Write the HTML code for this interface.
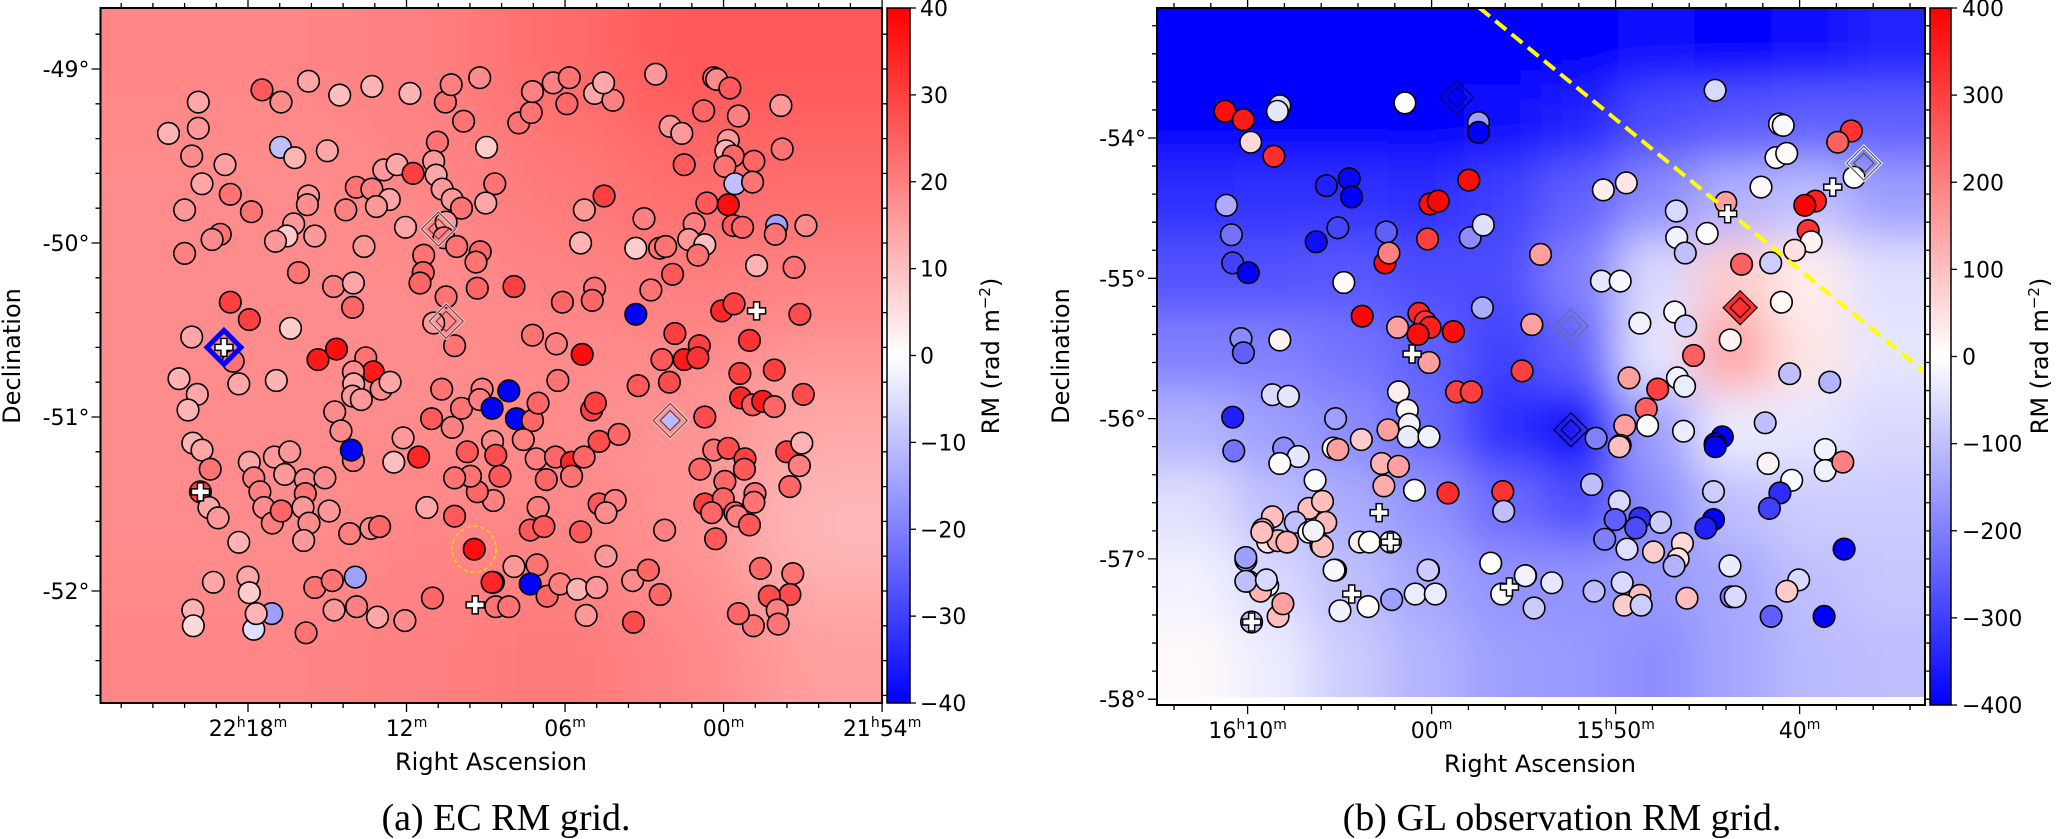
<!DOCTYPE html>
<html><head><meta charset="utf-8"><style>
html,body{margin:0;padding:0;background:#fff;}
svg{display:block;}
text{font-family:"DejaVu Sans","Liberation Sans",sans-serif;fill:#000;}
.cap{font-family:"Liberation Serif",serif;font-size:38px;}
</style></head><body>
<svg id="fig" width="2062" height="839" viewBox="0 0 2062 839" xmlns="http://www.w3.org/2000/svg">
<defs>
<clipPath id="clipL"><rect x="100.5" y="8" width="781.5" height="695"/></clipPath>
<clipPath id="clipR"><rect x="1157" y="8" width="768" height="697"/></clipPath>
<clipPath id="clipRmap"><rect x="1157" y="8" width="768" height="689"/></clipPath>
<filter id="blurL" filterUnits="userSpaceOnUse" x="0" y="-100" width="1000" height="900"><feGaussianBlur stdDeviation="40"/></filter>
<filter id="blurR" filterUnits="userSpaceOnUse" x="1050" y="-100" width="1000" height="900"><feGaussianBlur stdDeviation="22"/></filter>
<linearGradient id="cbar" x1="0" y1="1" x2="0" y2="0">
<stop offset="0" stop-color="#0000ff"/><stop offset="0.5" stop-color="#ffffff"/><stop offset="1" stop-color="#ff0000"/>
</linearGradient>
</defs>
<g id="root"></g>
<text class="cap" x="506" y="830" text-anchor="middle">(a) EC RM grid.</text>
<text class="cap" x="1562" y="830" text-anchor="middle">(b) GL observation RM grid.</text>
</svg>
<script>
// ===== Panel (a) data: RA in minutes after 22h, Dec in degrees, RM in rad m^-2 =====
const lRa=[21.01,19.88,19.88,20.13,18.87,19.74,18.67,20.40,17.87,20.40,
19.05,19.36,17.47,16.75,15.71,14.53,13.31,11.87,10.53,10.31,
9.23,9.84,10.83,16.77,16.23,15.00,12.86,12.36,11.75,10.97,
10.88,10.65,10.27,9.92,8.97,8.66,9.00,13.90,13.31,12.65,
13.14,14.30,15.71,15.75,16.27,16.53,16.96,15.47,13.61,12.04,
10.50,11.35,11.37,11.49,10.58,10.10,9.21,9.37,9.32,16.09,
14.76,14.01,14.04,10.50,10.97,10.18,7.93,7.75,7.28,7.23,
6.45,5.93,5.84,4.88,4.19,4.54,2.57,0.75,0.37,2.02,
1.58,1.49,0.63,1.11,3.01,4.52,5.27,5.41,3.32,2.42,
2.19,1.32,0.71,0.97,1.93,2.75,4.88,4.97,6.10,3.32,
1.84,1.49,0.92,0.97,2.33,2.05,3.23,5.35,6.33,7.23,
6.27,18.67,17.95,20.13,18.56,20.61,18.35,19.92,20.27,16.93,
16.39,15.35,14.65,13.54,13.26,14.01,14.00,14.04,13.71,12.96,
12.62,14.72,14.48,14.01,14.09,12.48,12.13,11.54,11.05,10.27,
10.67,9.92,9.14,9.23,8.76,8.13,7.84,7.23,7.02,7.58,
8.74,9.70,8.62,8.46,7.09,6.36,5.75,5.28,5.75,6.71,
7.02,8.71,9.32,9.58,10.18,11.23,10.18,9.44,4.99,4.85,
4.71,3.96,0.71,0.89,0.37,0.71,4.71,4.10,4.45,2.23,
5.41,7.32,6.80,7.93,7.06,8.71,7.32,20.09,19.74,19.43,
19.80,19.48,19.13,18.35,17.95,17.78,17.00,16.42,16.61,17.55,
17.40,17.08,16.74,15.83,15.83,15.92,15.09,14.93,15.69,15.89,
14.15,13.35,13.02,
19.31,18.00,17.95,20.09,20.07,17.78,17.10,17.69,15.47,14.81,
13.94,14.74,13.89,13.10,12.06,15.80,11.02,8.76,8.62,8.13,
6.68,6.19,5.53,4.80,5.20,3.44,2.85,2.40,3.41,4.45,
0.26,-0.24,-0.56,-2.17,-0.18,-0.09,-0.37,-1.15,-2.22,-0.05,
-0.43,-1.10,-0.18,-0.37,-0.72,-2.01,-1.96,-3.12,-1.25,-2.67,
0.07,-0.40,-2.89,-0.98,-0.62,-1.92,-0.65,-1.10,-1.48,-1.92,
-3.02,-0.18,-0.81,-0.79,-0.05,0.01,0.45,-0.43,-0.52,-1.19,
-1.15,-0.98,0.30,-2.39,-2.96,-2.87,-2.51,-1.40,-2.62,-2.51,
-1.73,-2.03,-2.07,-1.13,-0.56];
const lDec=[-49.37,-49.19,-49.34,-49.50,-49.55,-49.66,-49.72,-49.81,-49.82,-50.06,
-49.95,-49.98,-49.12,-49.19,-49.07,-49.15,-49.10,-49.14,-49.19,-49.09,
-49.05,-49.30,-49.42,-49.45,-49.51,-49.47,-49.58,-49.55,-49.60,-49.53,
-49.61,-49.69,-49.75,-49.80,-49.45,-49.66,-49.77,-49.68,-49.69,-49.75,
-49.79,-49.81,-49.73,-49.78,-49.89,-49.96,-49.99,-49.96,-50.02,-49.91,
-49.88,-50.07,-50.17,-50.23,-49.97,-50.02,-50.05,-50.11,-50.26,-50.17,
-50.25,-50.23,-50.37,-50.31,-50.46,-50.59,-50.25,-49.31,-49.25,-49.13,
-49.08,-49.20,-49.05,-49.14,-49.18,-49.08,-49.03,-49.24,-49.05,-49.33,
-49.37,-49.55,-49.77,-49.89,-49.86,-49.73,-49.81,-50.00,-50.03,-50.03,
-50.02,-49.98,-50.01,-50.07,-50.18,-50.27,-50.26,-50.33,-50.34,-50.41,
-50.52,-50.67,-50.59,-50.66,-50.67,-50.80,-50.82,-50.64,-50.58,-50.53,
-50.79,-50.34,-50.44,-50.54,-50.68,-50.78,-50.81,-50.87,-50.96,-50.79,
-50.49,-50.67,-50.61,-50.66,-50.74,-50.74,-50.81,-50.88,-50.90,-50.84,
-50.80,-50.97,-51.08,-51.25,-51.19,-51.26,-51.12,-51.23,-51.01,-51.06,
-50.84,-50.95,-50.84,-50.90,-50.95,-50.85,-51.01,-51.02,-50.92,-51.13,
-51.14,-51.20,-51.22,-51.34,-51.24,-51.23,-51.26,-51.23,-51.34,-51.36,
-51.52,-51.48,-51.43,-51.34,-51.35,-51.52,-51.57,-51.76,-50.96,-50.92,
-51.14,-51.10,-51.00,-51.30,-51.19,-51.50,-51.50,-51.48,-51.55,-51.65,
-51.66,-51.65,-51.63,-51.86,-51.85,-51.95,-51.96,-51.15,-51.19,-51.30,
-51.43,-51.52,-51.58,-51.72,-51.26,-51.35,-51.23,-51.20,-51.33,-51.43,
-51.52,-51.61,-51.54,-51.36,-51.44,-51.52,-51.35,-51.54,-51.61,-51.71,
-51.67,-51.64,-51.63,
-51.95,-51.92,-52.01,-52.11,-52.20,-52.22,-52.13,-52.13,-51.98,-51.94,
-51.92,-52.11,-52.09,-52.15,-52.17,-52.24,-52.04,-51.95,-52.09,-52.09,
-52.03,-51.96,-51.99,-51.98,-52.14,-51.94,-51.88,-52.02,-52.18,-51.80,
-49.06,-49.11,-49.27,-49.21,-49.41,-49.47,-49.50,-49.53,-49.46,-49.56,
-49.66,-49.65,-49.78,-49.90,-49.91,-49.90,-49.95,-49.90,-50.13,-50.14,
-50.39,-50.35,-50.41,-50.56,-50.75,-50.73,-50.89,-50.93,-50.91,-50.94,
-50.87,-51.18,-51.24,-51.30,-51.37,-51.47,-51.55,-51.55,-51.57,-51.44,
-51.49,-51.62,-51.70,-51.20,-51.15,-51.28,-51.40,-51.87,-51.90,-52.02,
-52.03,-52.11,-52.19,-52.20,-52.13];
const lRm=[12,14,16,18,15,14,22,16,22,20,
22,18,26,18,14,10,12,12,22,20,
18,22,22,-10,12,14,16,14,30,16,
14,16,16,22,8,22,14,22,20,14,
16,20,16,18,16,8,16,16,16,14,
16,22,24,24,20,22,24,22,24,22,
20,14,24,22,16,22,30,22,22,20,
20,24,22,14,20,14,16,24,22,16,
16,26,26,20,20,30,16,12,8,22,
22,16,10,22,26,22,22,24,24,-40,
30,36,30,32,26,28,26,38,20,22,
22,30,30,14,22,12,14,14,12,12,
8,36,38,22,36,18,14,16,16,18,
14,18,18,20,-40,10,16,34,26,20,
22,22,20,20,-40,-40,-40,24,24,20,
18,26,28,26,20,24,34,24,22,24,
20,20,24,22,22,14,26,38,30,30,
28,24,28,24,22,30,26,20,18,20,
26,26,26,16,22,30,-40,12,14,22,
30,14,16,12,14,20,16,16,16,20,
18,20,24,18,22,16,18,16,18,16,
20,18,24,
14,14,8,12,6,-5,-15,12,22,22,
-15,16,20,14,18,22,24,34,22,22,
24,20,12,16,16,18,24,24,28,16,
18,26,20,16,16,12,24,24,22,22,
-10,22,38,26,24,-15,22,18,12,22,
34,30,28,32,30,30,34,26,36,24,
28,28,30,26,24,24,24,24,20,22,
22,26,26,30,12,20,24,24,22,28,
28,20,22,22,24];
// background RM grid (rows top->bottom, cols left->right)
const lGrid=[[19,19,20,23,26,26],[18,18,19,21,23,23],[18,18,18,19,20,19],[18,18,18,18,17,14],[18,18,19,19,17,11],[19,19,20,21,19,15]];
const lPlusRa=[19.80,9.40,-1.25,18.91];
const lPlusDec=[-51.43,-52.08,-50.39,-50.60];
const lHollowRa=[10.79,10.50];
const lHollowDec=[-49.92,-50.45];
const lTickRa=[18,12,6,0,-6];
const lTickRaLabel=[["22","h","18","m"],["12","m"],["06","m"],["00","m"],["21","h","54","m"]];
const lTickDec=[-49,-50,-51,-52];
const lCbarTicks=[40,30,20,10,0,-10,-20,-30,-40];

// ===== Panel (b) data: RA in minutes after 15h =====
const rRa=[71.23,70.23,69.83,68.57,68.25,68.38,61.45,57.45,57.45,65.72,
64.48,64.35,57.98,60.08,59.64,71.15,70.88,70.81,69.96,66.27,
65.09,62.46,60.22,57.90,57.19,62.53,62.32,64.77,63.77,61.85,
60.69,60.35,60.08,60.74,58.82,57.24,54.55,70.36,70.23,68.25,
60.14,55.08,58.64,57.84,61.80,68.65,67.78,61.32,61.22,61.27,
60.14,62.37,70.81,70.75,65.22,65.35,65.09,63.82,68.04,67.25,
68.25,62.72,61.80,62.59,60.93,66.33,59.11,56.13,56.08,68.65,
66.67,65.93,65.75,67.41,66.67,69.17,68.91,67.85,66.01,63.90,
63.38,62.24,60.17,56.79,54.89,70.09,69.96,68.91,65.22,44.59,
41.09,40.89,37.19,37.93,41.28,40.70,37.04,42.10,49.42,50.67,
44.01,39.14,39.72,46.70,45.02,46.68,46.21,39.53,39.37,40.27,
54.08,43.15,41.57,50.77,49.75,40.99,46.79,46.19,48.68,43.77,
45.76,49.27,47.71,46.64,46.25,40.54,38.36,48.33,48.26,49.50,
46.31,41.87,44.20,44.59,51.06,49.75,49.80,51.30,49.80,50.02,
48.68,48.90,47.56,50.59,49.38,47.94,46.37,46.60,46.82,44.68,
44.68,45.10,44.58,41.71,40.43,41.07,41.64,38.61,38.61,37.65,
37.58,43.78,40.05,40.69,51.17,49.64,48.68,49.54,48.61,46.12,
43.72,43.50,41.55,38.67,69.78,68.34,68.08,64.98,63.45,62.17,
60.89,59.80,56.19,54.43,53.47,54.91,69.30,70.10,68.98,70.10,
68.34,69.23,67.86,65.94,66.42,65.30,60.19];
const rDec=[-53.81,-53.87,-54.03,-54.13,-53.77,-53.81,-53.75,-53.89,-53.96,-54.34,
-54.29,-54.42,-54.30,-54.47,-54.45,-54.48,-54.69,-54.89,-54.96,-54.74,
-54.64,-54.67,-54.72,-54.71,-54.62,-54.89,-54.82,-55.03,-55.27,-55.35,
-55.25,-55.31,-55.35,-55.40,-55.38,-55.21,-55.33,-55.43,-55.53,-55.44,
-55.60,-55.66,-55.81,-55.81,-55.81,-55.83,-55.84,-55.94,-56.04,-56.13,
-56.13,-56.08,-55.99,-56.23,-56.00,-56.21,-56.22,-56.15,-56.21,-56.27,
-56.32,-56.32,-56.34,-56.48,-56.51,-56.44,-56.53,-56.52,-56.66,-56.70,
-56.64,-56.59,-56.74,-56.74,-56.81,-56.79,-56.88,-56.88,-56.90,-56.88,
-56.88,-56.88,-57.08,-57.03,-57.12,-57.01,-57.16,-57.19,-57.08,-53.66,
-53.90,-53.91,-53.95,-54.03,-54.14,-54.11,-54.28,-54.35,-54.32,-54.37,
-54.46,-54.45,-54.48,-54.52,-54.68,-54.71,-54.82,-54.66,-54.74,-54.80,
-54.83,-54.90,-54.89,-55.02,-55.02,-55.17,-55.24,-55.34,-55.32,-55.44,
-55.55,-55.71,-55.79,-55.71,-55.77,-55.68,-55.74,-55.93,-56.05,-56.05,
-56.09,-56.03,-56.13,-56.18,-56.14,-56.19,-56.20,-56.47,-56.59,-56.72,
-56.71,-56.78,-56.74,-56.86,-56.93,-56.95,-56.89,-57.00,-57.05,-56.52,
-56.72,-56.78,-56.20,-56.32,-56.44,-56.53,-56.64,-56.22,-56.37,-56.31,
-56.93,-57.05,-57.15,-57.23,-57.23,-57.17,-57.26,-57.33,-57.33,-57.28,
-57.27,-57.27,-57.41,-57.41,-57.45,-57.41,-57.32,-57.37,-57.34,-57.29,
-57.25,-57.25,-57.25,-57.35,-57.17,-57.12,-57.23,-57.16,-57.15,-56.99,
-56.87,-56.81,-56.88,-56.91,-56.80,-57.08,-57.08];
const rRm=[380,360,60,330,-60,-40,-2,-150,-400,-350,
-390,-400,380,380,390,-130,-220,-300,-400,-380,
-290,-250,300,-180,-50,380,200,-5,390,150,
340,320,350,380,380,-130,150,-180,-250,20,
150,300,300,300,30,-60,-40,10,-20,-30,
-20,150,-350,-220,-150,0,150,80,-180,-40,
0,120,150,130,5,-5,330,320,-100,100,
100,100,110,-100,0,130,50,100,120,30,
0,-20,-160,0,-50,-130,-50,-10,-30,-60,
0,-10,320,250,5,10,0,10,40,30,
150,350,400,-60,0,-20,-100,320,20,50,
150,250,-80,-40,-10,10,-10,-70,-20,20,
250,150,300,-20,-30,-100,-120,250,-5,150,
-30,-100,-400,-400,-200,100,100,-100,-60,-250,
-330,-280,-80,-200,-50,80,60,50,-120,-80,
-400,-350,-400,20,-10,-330,-300,-20,-20,200,
-400,-30,-60,80,-100,-60,100,80,-80,100,
-200,-60,-250,-400,-100,100,150,-20,0,-150,
-30,-30,-5,-80,-40,-20,120,-100,-60,-150,
120,100,120,100,-20,-10,-80];
const rGrid=[
[-400,-400,-400,-400,-400,-400,-380,-400,-380,-350],
[-400,-400,-400,-400,-380,-350,-280,-260,-250,-250],
[-330,-320,-320,-330,-300,-250,-180,-120,-100,-150],
[-270,-270,-260,-280,-280,-200,-60,80,30,-50],
[-200,-200,-220,-250,-300,-250,-40,140,40,-40],
[-120,-150,-180,-230,-330,-400,-150,-30,-40,-60],
[-50,-100,-130,-170,-230,-280,-180,-100,-80,-80],
[-20,-60,-100,-140,-170,-170,-160,-140,-100,-90],
[10,-30,-80,-120,-150,-160,-180,-140,-110,-100]];
const rPlusRa=[43.91,38.20,61.06,62.85,62.24,69.78,64.34,55.77];
const rPlusDec=[-54.54,-54.35,-55.54,-56.67,-56.88,-57.45,-57.25,-57.20];
const rLineRa=[57.42,33.18];
const rLineDec=[-53.07,-55.67];
const rTickRa=[70,60,50,40];
const rTickRaLabel=[["16","h","10","m"],["00","m"],["15","h","50","m"],["40","m"]];
const rTickDec=[-54,-55,-56,-57,-58];
const rCbarTicks=[400,300,200,100,0,-100,-200,-300,-400];

// ===== axis functions =====
const L={x0:100.5,x1:882,y0:8,y1:703};
const R={x0:1157,x1:1925,y0:8,y1:705};
function xL(ra){return 248+(18-ra)*26.42;}
function yL(dec){return 69+(-49-dec)*174;}
function xR(ra){return 1247.6+(70-ra)*18.4;}
function yR(dec){return 138+(-54-dec)*140.3;}
function cbL(v){return L.y0+(40-v)/80*(L.y1-L.y0);}
function cbR(v){return R.y0+(400-v)/800*(R.y1-R.y0);}

function bwr(v,lo,hi){let t=(v-lo)/(hi-lo);t=Math.max(0,Math.min(1,t));let r,g,b;
 if(t<0.5){r=g=2*t;b=1;}else{r=1;g=b=2*(1-t);}
 return 'rgb('+Math.round(r*255)+','+Math.round(g*255)+','+Math.round(b*255)+')';}

const NS='http://www.w3.org/2000/svg';
const root=document.getElementById('root');
function mk(tag,attrs,parent){const e=document.createElementNS(NS,tag);for(const k in attrs)e.setAttribute(k,attrs[k]);(parent||root).appendChild(e);return e;}

function heat(grid,box,ymax,vlo,vhi,filt,clip,name){
 const outer=mk('g',{'clip-path':'url(#'+clip+')'});
 
 
 mk('rect',{x:box.x0,y:box.y0,width:box.x1-box.x0,height:ymax-box.y0,fill:bwr(grid[0][0],vlo,vhi)},outer);
 const g=mk('g',{filter:'url(#'+filt+')'},outer);
 const nr=grid.length,nc=grid[0].length,cw=(box.x1-box.x0)/nc,ch=(ymax-box.y0)/nr;
 for(let i=0;i<nr;i++)for(let j=0;j<nc;j++){
  let xa=box.x0+j*cw,xb=xa+cw,ya=box.y0+i*ch,yb=ya+ch;
  if(j==0)xa-=120; if(j==nc-1)xb+=120; if(i==0)ya-=120; if(i==nr-1)yb+=120;
  const c=mk('rect',{x:xa,y:ya,width:xb-xa+0.5,height:yb-ya+0.5,fill:bwr(grid[i][j],vlo,vhi)},g);
  
  
 }
 return outer;
}
function circles(ras,decs,rms,fx,fy,lo,hi,clip,name){
 const g=mk('g',{'clip-path':'url(#'+clip+')'});
 
 
 for(let i=0;i<ras.length;i++){
  const c=mk('circle',{cx:fx(ras[i]).toFixed(1),cy:fy(decs[i]).toFixed(1),r:10.8,fill:bwr(rms[i],lo,hi),stroke:'#000','stroke-width':1.6},g);
  
  
 }
 return g;
}
function plus(x,y,parent){
 const d='M'+(x-3)+','+(y-9)+'h6v6h6v6h-6v6h-6v-6h-6v-6h6z';
 const p=mk('path',{d:d,fill:'#fff',stroke:'#000','stroke-width':1.5},parent);
 
 
}
function diamond(x,y,s,attrs,parent){
 return mk('path',Object.assign({d:'M'+x+','+(y-s)+'L'+(x+s)+','+y+'L'+x+','+(y+s)+'L'+(x-s)+','+y+'Z'},attrs),parent);
}
function sup(t,parts){
 for(let k=0;k<parts.length;k++){
  const ts=document.createElementNS(NS,'tspan');
  ts.textContent=parts[k];
  if(k%2==1){ts.setAttribute('font-size','14');ts.setAttribute('dy','-9');}
  else if(k>0){ts.setAttribute('dy','9');}
  t.appendChild(ts);
 }
}
function axes(box,ticksX,labelsX,fx,ticksY,fy,minorX,minorY,xlabX,decX,name){
 const g=mk('g',{});
 
 
 const fr=mk('rect',{x:box.x0,y:box.y0,width:box.x1-box.x0,height:box.y1-box.y0,fill:'none',stroke:'#000','stroke-width':2},g);
 
 
 const tk=[];
 minorX.forEach(x=>{if(x>box.x0+1&&x<box.x1-1){tk.push('M'+x+','+box.y1+'v5M'+x+','+box.y0+'v-5');}});
 minorY.forEach(y=>{if(y>box.y0+1&&y<box.y1-1){tk.push('M'+box.x0+','+y+'h-5M'+box.x1+','+y+'h5');}});
 ticksX.forEach(v=>{const x=fx(v);tk.push('M'+x+','+box.y1+'v9M'+x+','+box.y0+'v-9');});
 ticksY.forEach(v=>{const y=fy(v);tk.push('M'+box.x0+','+y+'h-9M'+box.x1+','+y+'h7');});
 const tp=mk('path',{d:tk.join(''),stroke:'#000','stroke-width':1.3,fill:'none'},g);
 
 
 ticksX.forEach((v,i)=>{
  const t=mk('text',{x:fx(v),y:box.y1+33,'text-anchor':'middle','font-size':22},g);
  
  
  sup(t,labelsX[i]);
 });
 ticksY.forEach(v=>{
  const t=mk('text',{x:box.x0-11,y:fy(v)+8,'text-anchor':'end','font-size':22},g);
  
  
  t.textContent=v+'°';
 });
 const xl=mk('text',{x:xlabX,y:box.y1+67,'text-anchor':'middle','font-size':24},g);
 
 
 xl.textContent='Right Ascension';
 const yl=mk('text',{x:decX,y:356,'text-anchor':'middle','font-size':24,transform:'rotate(-90 '+decX+' 356)'},g);
 
 
 yl.textContent='Declination';
}
function colorbar(x,w,y0,y1,ticks,fcb,labX,titleX,name){
 const g=mk('g',{});
 
 
 const r=mk('rect',{x:x,y:y0,width:w,height:y1-y0,fill:'url(#cbar)',stroke:'#000','stroke-width':1.5},g);
 
 
 ticks.forEach(v=>{
  const y=fcb(v);
  const l=mk('line',{x1:x+w,x2:x+w+6,y1:y,y2:y,stroke:'#000','stroke-width':1.3},g);
  
  
  const t=mk('text',{x:labX,y:y+8,'font-size':22},g);
  
  
  t.textContent=(v<0?'\u2212'+(-v):''+v);
 });
 const tt=mk('text',{x:titleX,y:356,'text-anchor':'middle','font-size':24,transform:'rotate(-90 '+titleX+' 356)'},g);
 
 
 tt.textContent='RM (rad m';
 const s=document.createElementNS(NS,'tspan');s.setAttribute('font-size','15');s.setAttribute('dy','-9');s.textContent='\u22122';tt.appendChild(s);
 const s2=document.createElementNS(NS,'tspan');s2.setAttribute('dy','9');s2.textContent=')';tt.appendChild(s2);
}

// ===== Panel (a) =====
heat(lGrid,L,L.y1,-40,40,'blurL','clipL','background-rm-map-a');
circles(lRa,lDec,lRm,xL,yL,-40,40,'clipL','sources-a');
(function(){
 const g=mk('g',{'clip-path':'url(#clipL)'});
 
 
 for(let i=0;i<lHollowRa.length;i++){
  const x=xL(lHollowRa[i]),y=yL(lHollowDec[i]);
  const a=diamond(x,y,17,{fill:'none',stroke:'#f4c8c8','stroke-width':3},g);
  
  
  diamond(x,y,17,{fill:'none',stroke:'#5a3030','stroke-width':1},g);
  diamond(x,y,10,{fill:'none',stroke:'#5a3030','stroke-width':1},g);
 }
 const lx=xL(2.02),ly=yL(-51.02);
 diamond(lx,ly,17,{fill:'none',stroke:'#f4c8c8','stroke-width':3},g);
 diamond(lx,ly,17,{fill:'none',stroke:'#5a3030','stroke-width':1},g);
 const ld=diamond(lx,ly,10,{fill:bwr(-11,-40,40),stroke:'#5a3030','stroke-width':1},g);
 
 
 const bx=xL(18.91),by=yL(-50.60);
 const bd=diamond(bx,by,17,{fill:'none',stroke:'#0000ff','stroke-width':5},g);
 
 
 for(let i=0;i<lPlusRa.length;i++)plus(xL(lPlusRa[i]),yL(lPlusDec[i]),g);
 const yc=mk('ellipse',{cx:xL(9.44),cy:yL(-51.76),rx:22,ry:23,fill:'none',stroke:'#ffd700','stroke-width':1.5,'stroke-dasharray':'4,3'},g);
 
 
})();
(function(){
 const mx=[],my=[];
 for(let v=18+1.2*5;v>-7;v-=1.2)mx.push(xL(v));
 for(let v=-48.6;v>-52.7;v-=0.2)my.push(yL(v));
 axes(L,lTickRa,lTickRaLabel,xL,lTickDec,yL,mx,my,491,20,'axes-a');
})();
colorbar(887,23,L.y0,L.y1,lCbarTicks,cbL,920,999,'colorbar-a');

// ===== Panel (b) =====
heat(rGrid,R,697,-400,400,'blurR','clipRmap','background-rm-map-b');
circles(rRa,rDec,rRm,xR,yR,-400,400,'clipR','sources-b');
(function(){
 const g=mk('g',{'clip-path':'url(#clipR)'});
 
 
 const ln=mk('line',{x1:xR(rLineRa[0]),y1:yR(rLineDec[0]),x2:xR(rLineRa[1]),y2:yR(rLineDec[1]),stroke:'#ffff00','stroke-width':4,'stroke-dasharray':'14,7'},g);
 
 
 const dia=[[58.63,-53.71,'none','#000070'],[52.42,-55.34,'none','#6a6a9a'],[52.42,-56.08,'none','#000020'],[43.23,-55.21,'#ff3030','#000'],[36.51,-54.18,'none','#555']];
 dia.forEach(d=>{
  const x=xR(d[0]),y=yR(d[1]);
  if(d[3]=='#555'){diamond(x,y,17,{fill:'none',stroke:'#fff','stroke-width':3},g);}
  const o=diamond(x,y,17,{fill:d[2],stroke:d[3],'stroke-width':1.2},g);
  
  
  diamond(x,y,10,{fill:'none',stroke:d[3],'stroke-width':1.2},g);
 });
 for(let i=0;i<rPlusRa.length;i++)plus(xR(rPlusRa[i]),yR(rPlusDec[i]),g);
})();
(function(){
 const mx=[],my=[];
 for(let v=76;v>30;v-=2)mx.push(xR(v));
 for(let v=-53.0;v>-58.1;v-=0.2)my.push(yR(v));
 axes(R,rTickRa,rTickRaLabel,xR,rTickDec,yR,mx,my,1540,1069,'axes-b');
})();
colorbar(1930,21,R.y0,R.y1,rCbarTicks,cbR,1962,2048,'colorbar-b');
</script>
</body></html>
